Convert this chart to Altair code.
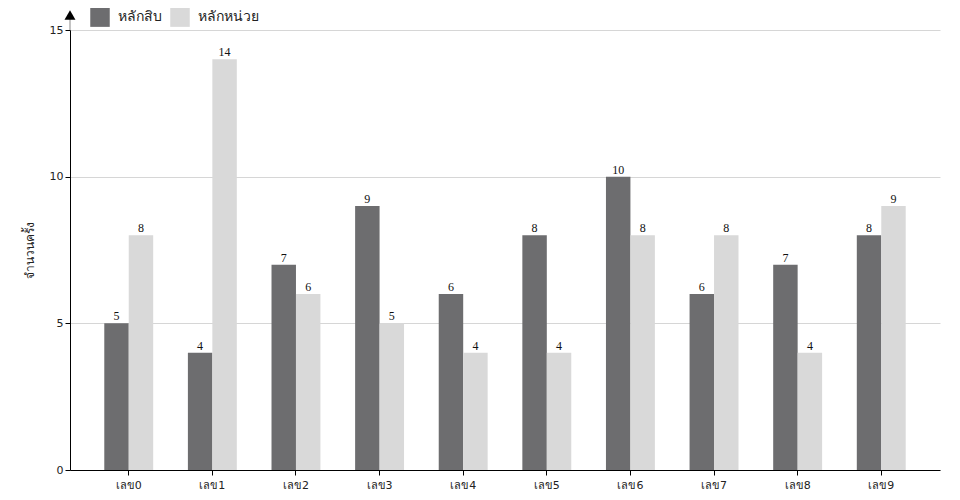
import altair as alt
import pandas as pd

categories = ["เลข0", "เลข1", "เลข2", "เลข3", "เลข4", "เลข5", "เลข6", "เลข7", "เลข8", "เลข9"]
series_names = ["หลักสิบ", "หลักหน่วย"]
tens = [5, 4, 7, 9, 6, 8, 10, 6, 7, 8]
units = [8, 14, 6, 5, 4, 4, 8, 8, 4, 9]
colors = ["#6d6d6f", "#d9d9d9"]
y_title = "จำนวนครั้ง"

rows = []
for i, c in enumerate(categories):
    rows.append({"cat": c, "series": series_names[0], "value": tens[i]})
    rows.append({"cat": c, "series": series_names[1], "value": units[i]})
df = pd.DataFrame(rows)

W, H = 870, 440

x = alt.X("cat:N", sort=categories, title=None,
          scale=alt.Scale(paddingInner=0.415, paddingOuter=0.41),
          axis=alt.Axis(labelAngle=0, labelFont="DejaVu Sans", labelFontSize=11,
                        labelColor="#222", domainColor="#000", tickColor="#000",
                        tickSize=5, labelPadding=4, grid=False))
xo = alt.XOffset("series:N", sort=series_names)
y = alt.Y("value:Q", title=y_title,
          scale=alt.Scale(domain=[0, 15]),
          axis=alt.Axis(values=[0, 5, 10, 15], labelFont="DejaVu Sans", labelFontSize=11,
                        labelColor="#222", domainColor="#000", tickColor="#000",
                        tickSize=5, gridColor="#d6d6d6", titleFont="DejaVu Sans",
                        titleFontSize=12, titleFontWeight="normal", titleColor="#222",
                        titlePadding=13))

base = alt.Chart(df)

bars = base.mark_bar().encode(
    x=x, xOffset=xo, y=y,
    color=alt.Color("series:N", sort=series_names,
                    scale=alt.Scale(domain=series_names, range=colors),
                    legend=alt.Legend(title=None, orient="none", direction="horizontal",
                                      legendX=20, legendY=-23, symbolType="square",
                                      symbolSize=380, symbolStrokeWidth=0,
                                      symbolOpacity=1,
                                      labelFont="DejaVu Sans", labelFontSize=14,
                                      labelColor="#222", columnPadding=8,
                                      labelOffset=8)),
)

labels = base.mark_text(dy=-7, font="Liberation Serif", fontSize=12, color="#111").encode(
    x=x, xOffset=xo, y=y, text="value:Q"
)

arrow_line = alt.Chart(pd.DataFrame({"a": [0]})).mark_rule(color="#888", strokeWidth=1).encode(
    x=alt.value(0), y=alt.value(0), y2=alt.value(-12)
)
arrow_head = alt.Chart(pd.DataFrame({"a": [0]})).mark_point(
    shape="triangle-up", filled=True, color="#000", size=120, opacity=1
).encode(x=alt.value(0), y=alt.value(-15))

chart = alt.layer(bars, labels, arrow_line, arrow_head).properties(
    width=W, height=H,
    autosize=alt.AutoSizeParams(type="none"),
    padding={"left": 62, "top": 22, "right": 12, "bottom": 22},
).configure_view(stroke=None).configure_axisX(domainWidth=1)

chart.save("out.html", embed_options={"renderer": "svg", "actions": False})
